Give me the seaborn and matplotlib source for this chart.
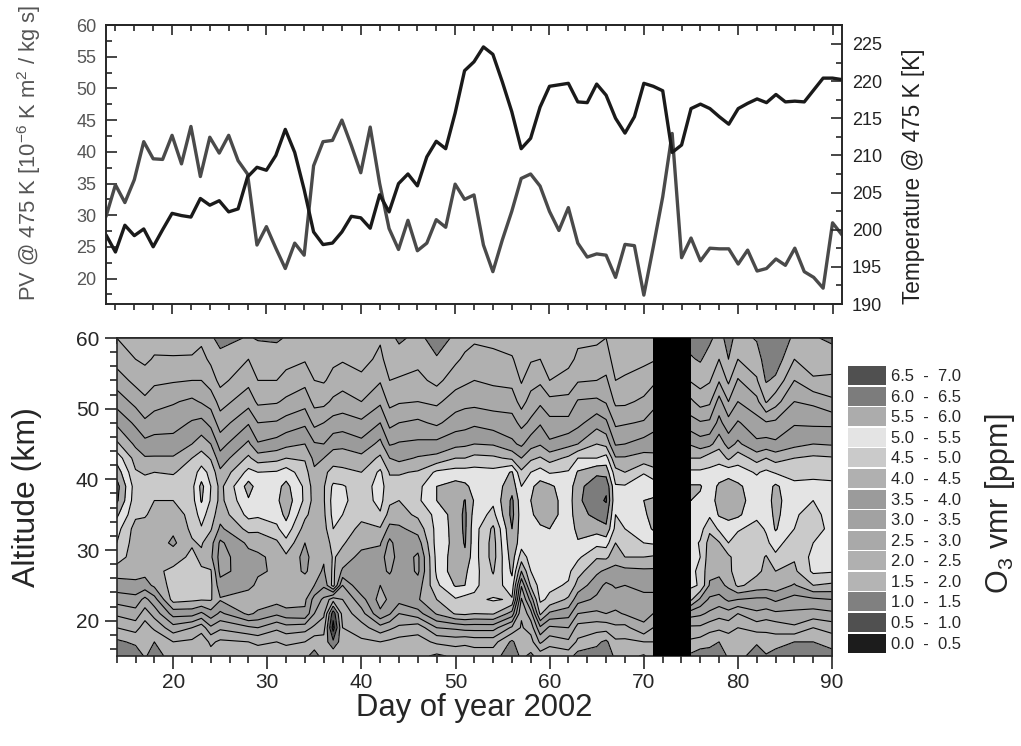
import matplotlib
matplotlib.use("Agg")
import matplotlib.pyplot as plt
from matplotlib.patches import Patch
from matplotlib.ticker import MultipleLocator
import numpy as np
import pandas as pd
import seaborn as sns

# top panel, one value per day
line_days = list(range(13, 92))
pv = [29.8, 34.8, 32.0, 35.6, 41.6, 38.9, 38.8, 42.6, 38.1, 44.0, 36.1, 42.3, 39.8, 42.6, 38.6, 36.5,
      25.3, 28.2, 24.8, 21.6, 25.6, 23.7, 37.8, 41.6, 41.8, 45.0, 41.0, 36.7, 43.9, 35.0, 27.9, 24.6,
      29.2, 24.4, 25.6, 29.3, 28.1, 34.9, 32.5, 33.2, 25.3, 21.1, 26.1, 30.6, 35.8, 36.5, 34.6, 30.6,
      27.6, 31.2, 25.6, 23.4, 23.9, 23.7, 20.2, 25.4, 25.2, 17.4, 25.0, 32.9, 42.9, 23.3, 26.4, 22.8,
      24.8, 24.7, 24.7, 22.3, 24.5, 21.2, 21.6, 23.1, 22.1, 24.8, 21.1, 20.2, 18.5, 28.8, 26.9]
temperature = [199.3, 197.0, 200.6, 199.2, 200.1, 197.7, 200.0, 202.2, 201.9, 201.7, 204.2, 203.3, 203.9,
               202.4, 202.8, 207.1, 208.4, 208.0, 210.0, 213.5, 210.4, 205.4, 199.7, 198.0, 198.2, 199.7,
               201.8, 201.6, 200.2, 204.7, 202.4, 206.2, 207.5, 205.9, 209.8, 211.9, 210.9, 215.7, 221.4,
               222.6, 224.6, 223.6, 219.9, 215.9, 210.9, 212.3, 216.5, 219.3, 219.5, 219.7, 217.2, 217.1,
               219.6, 218.1, 215.0, 213.0, 215.2, 219.7, 219.3, 218.7, 210.4, 211.4, 216.3, 216.9, 216.3,
               215.2, 214.2, 216.3, 217.0, 217.6, 217.1, 218.2, 217.2, 217.3, 217.2, 218.8, 220.4, 220.4, 220.2]

# ozone vmr, one column per listed day, top altitude first
altitudes = [60, 57, 54, 51, 48, 45, 43, 41, 39, 37, 35, 33, 31, 29, 27, 25, 23, 21, 19, 17, 15]
o3_days = [14, 16, 17, 18, 20, 22, 23, 24, 25, 28, 29, 31, 32, 34, 35, 36, 37, 38, 40, 42, 43, 44, 46,
           48, 50, 51, 52, 54, 56, 57, 58, 59, 60, 62, 63, 65, 66, 67, 68, 70, 71, 75, 76, 77, 78, 79,
           80, 82, 83, 84, 86, 88, 90]
o3_columns = [
    [2.0, 2.3, 2.76, 3.3, 3.9, 4.6, 5.3, 5.8, 6.2, 6.1, 5.6, 5.2, 5.0, 4.8, 4.2, 3.8, 3.2, 2.6, 2.0, 1.4, 1.2],
    [1.7, 2.0, 2.35, 2.85, 3.4, 3.9, 4.3, 4.55, 4.75, 4.7, 4.6, 4.3, 4.25, 4.2, 4.15, 3.9, 3.3, 2.8, 2.2, 1.6, 1.2],
    [1.6, 1.9, 2.25, 2.6, 3.1, 3.65, 4.05, 4.45, 4.7, 4.65, 4.55, 4.3, 4.25, 4.2, 4.15, 3.8, 2.85, 2.25, 1.75, 1.55, 1.55],
    [1.8, 2.05, 2.4, 2.8, 3.25, 3.7, 4.05, 4.5, 4.7, 4.5, 4.35, 4.3, 4.3, 4.35, 4.4, 4.1, 3.3, 2.7, 2.1, 1.5, 1.3],
    [1.75, 2.05, 2.45, 2.95, 3.3, 3.7, 4.05, 4.45, 4.75, 4.5, 4.2, 4.1, 3.9, 4.3, 4.6, 4.7, 4.7, 3.7, 2.8, 2.0, 1.7],
    [1.8, 2.05, 2.5, 3.1, 3.55, 4.0, 4.5, 4.75, 4.85, 4.8, 4.7, 4.6, 4.45, 4.6, 4.7, 4.7, 4.6, 3.7, 2.5, 1.9, 1.6],
    [1.9, 2.15, 2.5, 2.95, 3.65, 4.25, 4.75, 5.2, 5.65, 5.55, 5.2, 4.95, 4.55, 4.4, 4.55, 4.6, 4.55, 3.4, 2.2, 1.7, 1.6],
    [1.6, 1.9, 2.25, 2.8, 3.35, 4.0, 4.45, 4.85, 5.0, 4.95, 4.75, 4.55, 4.2, 4.1, 4.55, 4.6, 4.55, 3.8, 2.9, 2.1, 1.8],
    [1.3, 1.7, 1.85, 2.3, 2.75, 3.3, 3.7, 4.1, 4.35, 4.35, 4.2, 3.9, 3.4, 3.3, 3.35, 3.7, 4.05, 3.4, 2.6, 1.9, 1.6],
    [1.55, 2.0, 2.35, 2.8, 3.45, 4.1, 4.6, 5.15, 5.7, 5.45, 5.15, 4.65, 4.1, 3.85, 3.75, 3.8, 4.4, 4.1, 2.9, 2.0, 1.7],
    [1.45, 1.85, 2.0, 2.4, 3.0, 3.55, 4.25, 5.0, 5.3, 5.3, 5.1, 4.6, 4.2, 3.9, 3.9, 4.15, 4.3, 3.9, 3.0, 2.1, 1.7],
    [1.4, 1.85, 2.0, 2.45, 3.05, 3.7, 4.35, 5.05, 5.35, 5.4, 5.2, 4.9, 4.4, 4.15, 4.1, 4.2, 4.2, 3.6, 2.6, 2.0, 1.7],
    [1.55, 1.85, 2.15, 2.6, 3.2, 3.85, 4.5, 5.25, 5.65, 5.8, 5.65, 5.3, 4.85, 4.4, 4.2, 4.2, 4.3, 3.8, 2.8, 2.1, 1.7],
    [1.6, 1.95, 2.35, 2.8, 3.4, 4.0, 4.45, 4.7, 4.9, 4.9, 4.6, 4.3, 4.0, 3.85, 3.95, 4.2, 4.1, 3.9, 2.7, 2.0, 1.6],
    [1.6, 1.75, 2.0, 2.35, 2.85, 3.55, 3.85, 4.1, 4.25, 4.3, 4.3, 4.25, 4.2, 4.2, 4.15, 4.0, 3.3, 3.0, 2.4, 1.7, 1.35],
    [1.7, 1.8, 1.95, 2.35, 3.0, 3.5, 4.0, 4.4, 4.45, 4.45, 4.4, 4.3, 4.15, 4.05, 3.95, 3.6, 2.9, 2.6, 2.2, 1.8, 1.65],
    [1.7, 1.9, 2.15, 2.6, 3.2, 3.8, 4.3, 4.65, 5.1, 5.2, 5.15, 5.0, 4.7, 4.55, 4.6, 4.7, 2.2, 0.7, 0.3, 1.1, 1.9],
    [1.75, 1.95, 2.3, 2.7, 3.25, 3.85, 4.3, 4.6, 5.05, 5.1, 5.0, 4.7, 4.55, 4.35, 3.9, 3.0, 2.5, 2.2, 2.0, 1.8, 1.7],
    [1.6, 1.85, 2.1, 2.5, 3.1, 3.65, 4.15, 4.5, 4.75, 4.75, 4.6, 4.4, 4.2, 3.8, 3.75, 3.95, 3.3, 2.8, 2.3, 1.9, 1.7],
    [1.95, 2.1, 2.45, 2.9, 3.5, 4.15, 4.6, 5.1, 5.2, 5.15, 4.95, 4.45, 4.05, 3.8, 3.7, 4.0, 4.2, 3.9, 2.8, 2.0, 1.8],
    [1.65, 1.8, 2.0, 2.35, 2.85, 3.45, 4.0, 4.45, 4.7, 4.6, 4.3, 3.85, 3.35, 3.1, 3.4, 3.9, 3.9, 3.55, 2.6, 1.9, 1.6],
    [1.4, 1.75, 2.05, 2.45, 3.0, 3.55, 3.85, 4.45, 4.7, 4.5, 4.3, 3.9, 3.8, 3.85, 3.95, 4.0, 3.7, 3.0, 2.4, 1.8, 1.5],
    [1.65, 1.85, 2.15, 2.5, 3.1, 3.6, 4.05, 4.55, 4.85, 4.9, 4.6, 4.2, 3.75, 3.4, 3.4, 3.75, 3.95, 3.3, 2.2, 1.8, 1.65],
    [1.25, 1.55, 1.85, 2.4, 2.9, 3.65, 4.15, 5.1, 5.5, 5.5, 5.15, 5.15, 5.2, 5.15, 5.1, 4.9, 4.5, 4.05, 3.0, 2.1, 1.4],
    [1.6, 1.9, 2.3, 2.75, 3.25, 3.85, 4.5, 5.2, 5.7, 5.8, 5.75, 5.7, 5.65, 5.75, 5.8, 5.55, 4.95, 4.55, 3.1, 2.2, 1.6],
    [1.8, 2.1, 2.4, 2.85, 3.3, 3.9, 4.5, 5.2, 5.6, 6.02, 6.1, 6.1, 6.05, 5.9, 5.6, 5.5, 4.8, 4.6, 3.2, 2.1, 1.7],
    [1.9, 2.25, 2.5, 2.85, 3.4, 4.0, 4.65, 5.2, 5.35, 5.45, 5.3, 5.2, 5.2, 5.2, 5.2, 5.1, 4.9, 4.5, 3.2, 2.2, 1.7],
    [1.9, 2.1, 2.4, 2.8, 3.25, 3.95, 4.6, 5.15, 5.2, 5.1, 4.85, 4.4, 4.3, 4.3, 4.45, 4.7, 5.05, 4.55, 3.2, 2.2, 1.7],
    [1.75, 2.05, 2.35, 2.75, 3.2, 3.6, 4.4, 5.55, 5.8, 6.1, 6.15, 6.0, 5.9, 5.75, 5.6, 5.3, 4.95, 3.8, 2.4, 1.4, 1.2],
    [1.6, 1.75, 1.95, 2.3, 2.85, 3.4, 4.0, 4.6, 5.0, 5.2, 5.25, 5.25, 5.2, 4.75, 4.0, 3.05, 2.45, 2.05, 1.95, 1.9, 1.6],
    [1.7, 1.95, 2.3, 2.7, 3.1, 3.8, 4.4, 5.0, 5.4, 5.5, 5.4, 5.3, 5.25, 5.2, 5.0, 4.6, 3.7, 2.8, 2.2, 1.8, 1.4],
    [1.7, 2.0, 2.4, 2.9, 3.45, 3.95, 4.55, 5.2, 5.7, 5.8, 5.75, 5.4, 5.3, 5.5, 5.3, 5.2, 5.1, 4.6, 3.4, 2.6, 1.7],
    [1.6, 1.8, 2.0, 2.65, 3.15, 3.6, 4.3, 4.95, 5.6, 5.7, 5.7, 5.5, 5.3, 5.2, 5.15, 5.1, 4.9, 3.9, 2.9, 2.2, 1.6],
    [1.6, 1.85, 2.2, 2.65, 3.15, 3.85, 4.6, 5.05, 5.2, 5.25, 5.25, 5.2, 5.2, 5.2, 5.1, 4.95, 4.4, 3.7, 3.0, 2.4, 1.7],
    [1.9, 2.1, 2.45, 3.05, 3.35, 4.0, 5.0, 5.55, 5.85, 5.9, 5.8, 5.65, 5.45, 5.1, 4.7, 4.3, 3.7, 3.0, 2.3, 1.9, 1.3],
    [1.95, 2.1, 2.5, 3.1, 3.8, 4.5, 5.0, 5.9, 6.3, 6.35, 6.15, 5.7, 5.15, 4.55, 4.1, 3.7, 3.4, 2.9, 2.2, 1.6, 1.3],
    [2.0, 2.2, 2.6, 2.95, 3.6, 4.35, 5.2, 5.8, 6.4, 6.55, 6.2, 5.9, 5.2, 4.6, 3.9, 3.4, 3.2, 3.0, 2.2, 1.4, 1.2],
    [1.7, 1.8, 2.0, 2.4, 2.9, 3.45, 4.05, 4.7, 5.05, 5.1, 5.0, 4.85, 4.5, 4.2, 3.85, 3.55, 3.3, 2.9, 2.4, 1.9, 1.6],
    [1.7, 1.85, 2.05, 2.4, 2.95, 3.5, 4.05, 4.5, 5.05, 5.15, 5.1, 5.0, 4.75, 4.5, 3.85, 3.5, 3.3, 3.05, 2.35, 1.9, 1.65],
    [1.75, 1.9, 2.2, 2.6, 3.05, 3.7, 4.2, 4.95, 5.4, 5.5, 5.45, 5.3, 5.0, 4.5, 3.9, 3.65, 3.35, 3.15, 2.9, 2.0, 1.45],
    [1.75, 1.95, 2.4, 2.8, 3.3, 3.75, 4.15, 4.7, 5.3, 5.55, 5.6, 5.55, 5.05, 4.45, 3.9, 3.7, 3.3, 3.0, 2.5, 2.0, 1.7],
    [1.3, 1.55, 1.95, 2.6, 3.2, 3.95, 4.5, 5.1, 5.55, 5.5, 5.2, 5.1, 5.2, 5.2, 5.1, 5.1, 4.6, 3.2, 2.4, 1.9, 1.4],
    [1.2, 1.45, 1.8, 2.3, 3.05, 3.75, 4.5, 5.1, 5.55, 5.4, 5.2, 5.2, 4.95, 5.0, 4.9, 4.95, 3.9, 3.1, 2.4, 1.8, 1.2],
    [1.4, 1.7, 1.95, 2.4, 3.1, 3.85, 4.8, 5.1, 5.2, 5.25, 5.1, 4.6, 4.3, 4.2, 4.1, 3.95, 3.4, 2.9, 2.2, 1.6, 1.35],
    [1.7, 2.0, 2.45, 3.2, 3.65, 4.3, 4.85, 5.2, 5.6, 5.7, 5.55, 5.1, 4.45, 4.3, 4.1, 3.85, 3.3, 2.7, 2.1, 1.5, 1.3],
    [1.3, 1.5, 1.9, 2.5, 3.2, 3.8, 4.4, 5.3, 5.75, 5.8, 5.6, 5.35, 5.0, 4.4, 4.3, 4.1, 3.6, 2.8, 2.2, 1.7, 1.55],
    [1.7, 2.0, 2.55, 3.0, 3.55, 4.1, 4.8, 5.2, 5.6, 5.75, 5.6, 5.05, 4.8, 4.75, 4.9, 4.6, 3.5, 2.5, 2.0, 1.6, 1.65],
    [1.45, 1.75, 2.05, 2.65, 3.2, 3.6, 4.3, 4.95, 5.2, 5.15, 5.1, 4.85, 4.7, 4.75, 4.6, 4.3, 3.4, 2.9, 2.2, 1.55, 1.3],
    [1.15, 1.25, 1.45, 1.95, 3.05, 3.7, 4.5, 5.1, 5.25, 5.25, 5.15, 5.05, 4.9, 4.45, 4.4, 4.25, 3.4, 2.8, 2.1, 1.8, 1.45],
    [1.1, 1.2, 1.6, 2.3, 3.1, 3.6, 4.3, 4.95, 5.6, 5.7, 5.65, 5.55, 5.2, 4.9, 4.5, 4.3, 3.6, 2.9, 2.2, 1.75, 1.25],
    [1.6, 2.0, 2.5, 3.0, 3.45, 3.85, 4.5, 4.85, 5.1, 5.1, 5.05, 5.0, 4.7, 4.55, 4.4, 3.95, 3.3, 2.9, 2.4, 1.5, 1.2],
    [1.55, 1.8, 2.05, 2.9, 3.4, 4.0, 4.6, 4.9, 5.1, 5.0, 4.85, 4.7, 5.0, 5.15, 5.1, 4.5, 3.4, 2.8, 2.0, 1.5, 1.25],
    [1.4, 1.75, 2.1, 2.6, 3.4, 3.95, 4.55, 4.85, 5.1, 5.2, 5.2, 5.2, 5.2, 5.1, 5.05, 4.4, 3.5, 2.9, 2.2, 1.7, 1.3],
]

o3_levels = [0.0, 0.5, 1.0, 1.5, 2.0, 2.5, 3.0, 3.5, 4.0, 4.5, 5.0, 5.5, 6.0, 6.5, 7.0]
o3_colors = ['#1c1c1c', '#505050', '#808080', '#b4b4b4', '#b0b0b0', '#a9a9a9', '#a2a2a2', '#9b9b9b',
             '#b0b0b0', '#cacaca', '#e4e4e4', '#acacac', '#7c7c7c', '#505050']
gap_days = (71, 75)

GREY = '#4a4a4a'
DARK = '#1a1a1a'
W, H = 1021, 746

sns.set_style('ticks')
plt.rcParams['font.family'] = ['Liberation Sans', 'DejaVu Sans']
plt.rcParams['mathtext.fontset'] = 'custom'
plt.rcParams['mathtext.rm'] = 'Liberation Sans'
plt.rcParams['mathtext.default'] = 'regular'
plt.rcParams['axes.linewidth'] = 1.2


def px_axes(fig, left, top, right, bottom):
    return fig.add_axes([left / W, 1 - bottom / H, (right - left) / W, (bottom - top) / H])


fig = plt.figure(figsize=(W / 100, H / 100), dpi=100)

# top panel
lines = pd.DataFrame({'day': line_days, 'pv': pv, 'temperature': temperature})
ax_pv = px_axes(fig, 106, 25, 842, 304)
sns.lineplot(data=lines, x='day', y='pv', color=GREY, linewidth=2.4, ax=ax_pv)
ax_t = ax_pv.twinx()
sns.lineplot(data=lines, x='day', y='temperature', color=DARK, linewidth=2.4, ax=ax_t)

ax_pv.set_xlim(13, 91)
ax_pv.set_ylim(16, 60)
ax_t.set_ylim(190, 227.55)
ax_pv.set_xlabel('')
ax_pv.set_ylabel('PV @ 475 K [10$^{-6}$ K m$^2$ / kg s]', fontsize=15.8, color='#555555')
ax_pv.yaxis.set_label_coords(-0.086, 0.541)
ax_t.set_ylabel('Temperature @ 475 K [K]', fontsize=16.3, color='#222222')
ax_t.yaxis.set_label_coords(1.082, 0.459)

ax_pv.xaxis.set_major_locator(MultipleLocator(10))
ax_pv.xaxis.set_minor_locator(MultipleLocator(2))
ax_pv.yaxis.set_major_locator(MultipleLocator(5))
ax_pv.yaxis.set_minor_locator(MultipleLocator(2.5))
ax_t.yaxis.set_major_locator(MultipleLocator(5))
ax_t.yaxis.set_minor_locator(MultipleLocator(2.5))
ax_pv.tick_params(axis='x', which='major', direction='out', length=7, width=1.2, labelbottom=False)
ax_pv.tick_params(axis='x', which='minor', direction='out', length=4, width=1.2)
ax_pv.tick_params(axis='y', which='major', direction='in', length=7.7, width=1.2, labelsize=13, labelcolor='#555555', pad=7)
ax_pv.tick_params(axis='y', which='minor', direction='in', length=4, width=1.2)
ax_t.tick_params(axis='y', which='major', direction='in', length=7.7, width=1.2, labelsize=13, labelcolor='#222222', pad=7)
ax_t.tick_params(axis='y', which='minor', direction='in', length=4, width=1.2)
top_ticks = ax_pv.secondary_xaxis('top')
top_ticks.xaxis.set_major_locator(MultipleLocator(10))
top_ticks.xaxis.set_minor_locator(MultipleLocator(2))
top_ticks.tick_params(axis='x', which='major', direction='in', length=7, width=1.2, labeltop=False)
top_ticks.tick_params(axis='x', which='minor', direction='in', length=4, width=1.2)

# ozone panel
ax_o3 = px_axes(fig, 116.7, 338, 832, 656)
o3 = np.array(o3_columns).T
ax_o3.contourf(o3_days, altitudes, o3, levels=o3_levels, colors=o3_colors)
ax_o3.contour(o3_days, altitudes, o3, levels=o3_levels[1:-1], colors='black', linewidths=0.8)
ax_o3.axvspan(gap_days[0], gap_days[1], color='black', lw=0, zorder=3)

ax_o3.set_xlim(14, 90)
ax_o3.set_ylim(15, 60)
ax_o3.set_xlabel('Day of year 2002', fontsize=22.3)
ax_o3.xaxis.set_label_coords(0.5, -0.116)
ax_o3.set_ylabel('Altitude (km)', fontsize=23)
ax_o3.yaxis.set_label_coords(-0.104, 0.5)
ax_o3.xaxis.set_major_locator(MultipleLocator(10))
ax_o3.xaxis.set_minor_locator(MultipleLocator(2))
ax_o3.yaxis.set_major_locator(MultipleLocator(10))
ax_o3.yaxis.set_minor_locator(MultipleLocator(2))
ax_o3.tick_params(axis='both', which='major', direction='out', length=9, width=1.2, labelsize=15)
ax_o3.tick_params(axis='both', which='minor', direction='out', length=4.8, width=1.2)
for pos, axis_dir in (('top', 'x'), ('right', 'y')):
    sec = ax_o3.secondary_xaxis(pos) if axis_dir == 'x' else ax_o3.secondary_yaxis(pos)
    target = sec.xaxis if axis_dir == 'x' else sec.yaxis
    target.set_major_locator(MultipleLocator(10))
    target.set_minor_locator(MultipleLocator(2))
    sec.tick_params(axis=axis_dir, which='major', direction='in', length=7, width=1.2, labeltop=False, labelright=False)
    sec.tick_params(axis=axis_dir, which='minor', direction='in', length=4, width=1.2)

# legend, highest range first
handles = [Patch(facecolor=c, edgecolor='none', label=f'{lo:.1f}  -  {hi:.1f}')
           for lo, hi, c in zip(o3_levels[:-1], o3_levels[1:], o3_colors)][::-1]
fig.legend(handles=handles, loc='upper left', bbox_to_anchor=(848 / W, 1 - 366 / H), frameon=False,
           fontsize=12, handlelength=2.28, handleheight=1.377, labelspacing=0.095, handletextpad=0.3,
           borderpad=0, borderaxespad=0)
fig.text(1000 / W, 1 - 504 / H, 'O$_3$ vmr [ppm]', rotation=90, fontsize=22, ha='center', va='center')

fig.savefig('out.png', dpi=100)
